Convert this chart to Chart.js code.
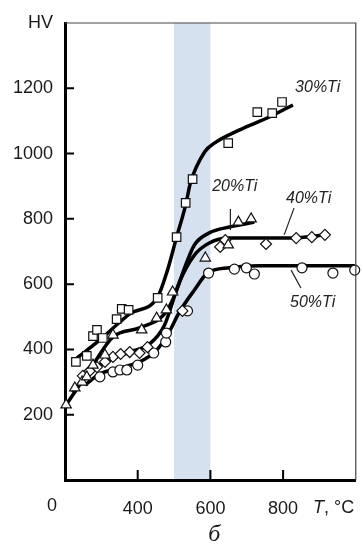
<!DOCTYPE html>
<html>
<head>
<meta charset="utf-8">
<script src="https://cdn.jsdelivr.net/npm/chart.js@4.4.0/dist/chart.umd.min.js"></script>
<style>
  body { margin: 0; background: #fff; }
  canvas { display: block; }
</style>
</head>
<body>
<canvas id="hvChart" width="363" height="550"></canvas>
<script>
// measured points (T in °C, hardness HV)
const t30 = [230, 260, 277, 288, 304, 342, 356, 375, 455, 507, 532, 551, 649, 729, 770, 797];
const hv30 = [362, 380, 441, 460, 435, 493, 524, 521, 558, 744, 849, 922, 1032, 1127, 1124, 1158];
const t20 = [203, 227, 247, 260, 277, 310, 332, 411, 452, 479, 496, 586, 649, 677, 712];
const hv20 = [230, 282, 300, 316, 352, 383, 444, 460, 496, 521, 576, 680, 720, 790, 800];
const t40 = [249, 268, 288, 310, 332, 353, 378, 405, 427, 523, 627, 641, 753, 836, 879, 915];
const hv40 = [319, 334, 346, 362, 377, 386, 392, 389, 407, 518, 714, 735, 723, 741, 744, 751];
const t50 = [296, 332, 351, 370, 400, 444, 477, 479, 537, 595, 666, 699, 721, 852, 937, 997];
const hv50 = [316, 331, 337, 337, 352, 389, 423, 450, 518, 634, 646, 650, 631, 650, 634, 643];

// fitted curves
const ct30 = [233, 296, 351, 378, 455, 482, 507, 532, 545, 584, 611, 679, 762, 827];
const chv30 = [374, 429, 484, 509, 561, 643, 744, 843, 910, 1005, 1032, 1072, 1112, 1149];
const ct20 = [203, 268, 332, 405, 474, 501, 529, 556, 597, 652, 721];
const chv20 = [230, 337, 438, 466, 509, 564, 650, 720, 757, 775, 790];
const ct40 = [219, 268, 323, 378, 433, 474, 515, 556, 597, 652, 816, 918];
const chv40 = [270, 331, 368, 392, 417, 475, 607, 689, 726, 741, 741, 751];
const ct50 = [255, 296, 351, 405, 447, 482, 515, 556, 592, 652, 734, 997];
const chv50 = [291, 325, 343, 362, 392, 444, 515, 582, 634, 650, 656, 656];

const xTicks = [400, 600, 800];
const band = [500, 600];

const seriesNames = ['30%Ti', '20%Ti', '40%Ti', '50%Ti'];
const labelT = [833, 605, 808, 819];
const labelHV = [1201, 898, 861, 545];
// leader lines: [t1, hv1, t2, hv2]
const leaders = [null, [655, 830, 655, 766], [830, 833, 803, 751], [822, 643, 849, 588]];

function pts(xs, ys) {
    return xs.map((x, i) => ({ x: x, y: ys[i] }));
}

function markers(xs, ys, style, r) {
    return {
        data: pts(xs, ys),
        showLine: false,
        pointStyle: style,
        pointRadius: r,
        pointBackgroundColor: '#fff',
        pointBorderColor: '#111',
        pointBorderWidth: 1.2,
        clip: false,
        order: 0
    };
}

function curve(xs, ys) {
    return {
        data: pts(xs, ys),
        showLine: true,
        borderColor: '#000',
        borderWidth: 3.5,
        pointRadius: 0,
        cubicInterpolationMode: 'monotone',
        clip: false,
        order: 1
    };
}

const overlay = {
    id: 'overlay',
    beforeDraw(chart) {
        const { ctx, chartArea, scales } = chart;
        const x1 = scales.x.getPixelForValue(band[0]);
        const x2 = scales.x.getPixelForValue(band[1]);
        ctx.save();
        ctx.fillStyle = '#d6e1ef';
        ctx.fillRect(x1, chartArea.top, x2 - x1, chartArea.bottom - chartArea.top);
        ctx.restore();
    },
    afterDraw(chart) {
        const { ctx, chartArea, scales } = chart;
        const xs = scales.x, ys = scales.y;
        ctx.save();
        // thin frame top/right
        ctx.strokeStyle = '#444';
        ctx.lineWidth = 1.2;
        ctx.beginPath();
        ctx.moveTo(chartArea.left, chartArea.top);
        ctx.lineTo(chartArea.right, chartArea.top);
        ctx.lineTo(chartArea.right, chartArea.bottom);
        ctx.stroke();

        // inward tick marks
        ctx.strokeStyle = '#000';
        ctx.lineWidth = 2;
        ctx.beginPath();
        ys.ticks.forEach(t => {
            if (t.value <= 0 || t.value >= 1400) return;
            const y = ys.getPixelForValue(t.value);
            ctx.moveTo(chartArea.left, y);
            ctx.lineTo(chartArea.left + 9, y);
        });
        xTicks.forEach(v => {
            const x = xs.getPixelForValue(v);
            ctx.moveTo(x, chartArea.bottom);
            ctx.lineTo(x, chartArea.bottom - 10);
        });
        ctx.stroke();

        // series labels and leader lines
        ctx.fillStyle = '#222';
        ctx.font = 'italic 16px "Liberation Sans", Arial, sans-serif';
        ctx.textBaseline = 'middle';
        ctx.textAlign = 'left';
        seriesNames.forEach((name, i) => {
            ctx.fillText(name, xs.getPixelForValue(labelT[i]), ys.getPixelForValue(labelHV[i]));
        });
        ctx.strokeStyle = '#222';
        ctx.lineWidth = 1.2;
        ctx.beginPath();
        leaders.forEach(l => {
            if (!l) return;
            ctx.moveTo(xs.getPixelForValue(l[0]), ys.getPixelForValue(l[1]));
            ctx.lineTo(xs.getPixelForValue(l[2]), ys.getPixelForValue(l[3]));
        });
        ctx.stroke();

        // origin "0", axis title, panel letter
        ctx.fillStyle = '#1a1a1a';
        ctx.font = '18px "Liberation Sans", Arial, sans-serif';
        ctx.textAlign = 'center';
        ctx.fillText('0', chartArea.left - 13, chartArea.bottom + 26);

        const ty = chartArea.bottom + 28;
        ctx.textAlign = 'left';
        ctx.font = 'italic 18px "Liberation Sans", Arial, sans-serif';
        const tx = 313;
        ctx.fillText('T', tx, ty);
        const tw = ctx.measureText('T').width;
        ctx.font = '18px "Liberation Sans", Arial, sans-serif';
        ctx.fillText(', °C', tx + tw, ty);

        ctx.textAlign = 'center';
        ctx.font = 'italic 24px "Liberation Serif", "Times New Roman", serif';
        ctx.fillText('б', (chartArea.left + chartArea.right) / 2 + 4, chartArea.bottom + 55);
        ctx.restore();
    }
};

new Chart(document.getElementById('hvChart'), {
    type: 'scatter',
    data: {
        datasets: [
            markers(t30, hv30, 'rect', 6),
            markers(t20, hv20, 'triangle', 6),
            markers(t40, hv40, 'rectRot', 5.5),
            markers(t50, hv50, 'circle', 5),
            curve(ct30, chv30),
            curve(ct20, chv20),
            curve(ct40, chv40),
            curve(ct50, chv50)
        ]
    },
    options: {
        responsive: false,
        animation: false,
        layout: { padding: { top: 23, right: 7, left: 0, bottom: 0 } },
        plugins: {
            legend: { display: false },
            tooltip: { enabled: false }
        },
        scales: {
            x: {
                type: 'linear',
                min: 200,
                max: 1000,
                afterBuildTicks: scale => { scale.ticks = xTicks.map(v => ({ value: v })); },
                afterFit: scale => { scale.height = 70; },
                grid: { display: false, drawTicks: false },
                border: { display: true, color: '#000', width: 3 },
                ticks: {
                    padding: 18,
                    color: '#1a1a1a',
                    font: { family: '"Liberation Sans", Arial, sans-serif', size: 18 }
                }
            },
            y: {
                type: 'linear',
                min: 0,
                max: 1400,
                afterFit: scale => { scale.width = 65; },
                grid: { display: false, drawTicks: false },
                border: { display: true, color: '#000', width: 3 },
                ticks: {
                    stepSize: 200,
                    padding: 12,
                    color: '#1a1a1a',
                    font: { family: '"Liberation Sans", Arial, sans-serif', size: 18 },
                    callback: v => v === 0 ? '' : (v === 1400 ? 'HV' : v)
                }
            }
        }
    },
    plugins: [overlay]
});
</script>
</body>
</html>
